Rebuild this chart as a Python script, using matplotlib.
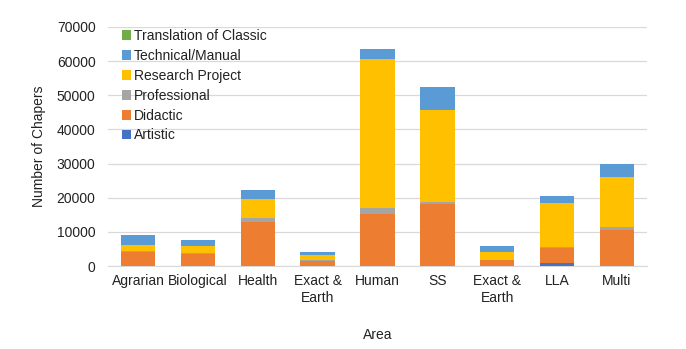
import matplotlib
matplotlib.use("Agg")
import matplotlib.pyplot as plt
import numpy as np

plt.rcParams['font.family'] = ['Liberation Sans', 'DejaVu Sans']

categories = ["Agrarian", "Biological", "Health", "Exact &\nEarth", "Human", "SS",
              "Exact &\nEarth", "LLA", "Multi"]
artistic = [0, 0, 0, 0, 0, 0, 0, 890, 0]
didactic = [4200, 3400, 12870, 1600, 15250, 18220, 1750, 4260, 10500]
professional = [150, 300, 1090, 100, 1780, 390, 100, 490, 890]
research = [1690, 2240, 5540, 1470, 43560, 27170, 2210, 12680, 14590]
technical = [3070, 1780, 2880, 990, 2940, 6570, 1680, 2270, 4020]
translation = [0, 0, 0, 0, 0, 0, 0, 0, 0]

series = [
    ("Artistic", artistic, "#4472C4"),
    ("Didactic", didactic, "#ED7D31"),
    ("Professional", professional, "#A5A5A5"),
    ("Research Project", research, "#FFC000"),
    ("Technical/Manual", technical, "#5B9BD5"),
    ("Translation of Classic", translation, "#70AD47"),
]

fig = plt.figure(figsize=(6.86, 3.49), dpi=100)
ax = fig.add_axes([108/686, 1-266/349, (647-108)/686, (266-27)/349])

x = np.arange(len(categories))
bottom = np.zeros(len(categories))
handles = []
for name, vals, col in series:
    b = ax.bar(x, vals, 0.575, bottom=bottom, color=col, label=name, zorder=3)
    bottom += np.array(vals)
    handles.append(b)

ax.set_xlim(-0.5, len(categories) - 0.5)
ax.set_ylim(0, 70000)
ax.set_yticks(np.arange(0, 70001, 10000))
ax.set_yticklabels([str(v) for v in range(0, 70001, 10000)])
ax.set_xticks(x)
ax.set_xticklabels(categories)
ax.grid(axis='y', color='#D9D9D9', linewidth=0.9, zorder=0)
for s in ['top', 'right', 'left']:
    ax.spines[s].set_visible(False)
ax.spines['bottom'].set_color('#D9D9D9')
ax.tick_params(axis='both', length=0, labelsize=10, colors='#222222')
ax.tick_params(axis='y', pad=9)
ax.tick_params(axis='x', pad=6)

ax.set_ylabel("Number of Chapers", fontsize=10, color='#222222', labelpad=8)
ax.set_xlabel("Area", fontsize=10, color='#222222', labelpad=17)

leg = ax.legend(handles[::-1], [s[0] for s in series][::-1], loc='upper left',
                bbox_to_anchor=(0.015, 1.014), frameon=False, fontsize=10,
                handlelength=0.7, handleheight=0.7, handletextpad=0.2,
                labelspacing=0.42, borderaxespad=0)
for t in leg.get_texts():
    t.set_color('#222222')

fig.savefig("out.png", dpi=100)
